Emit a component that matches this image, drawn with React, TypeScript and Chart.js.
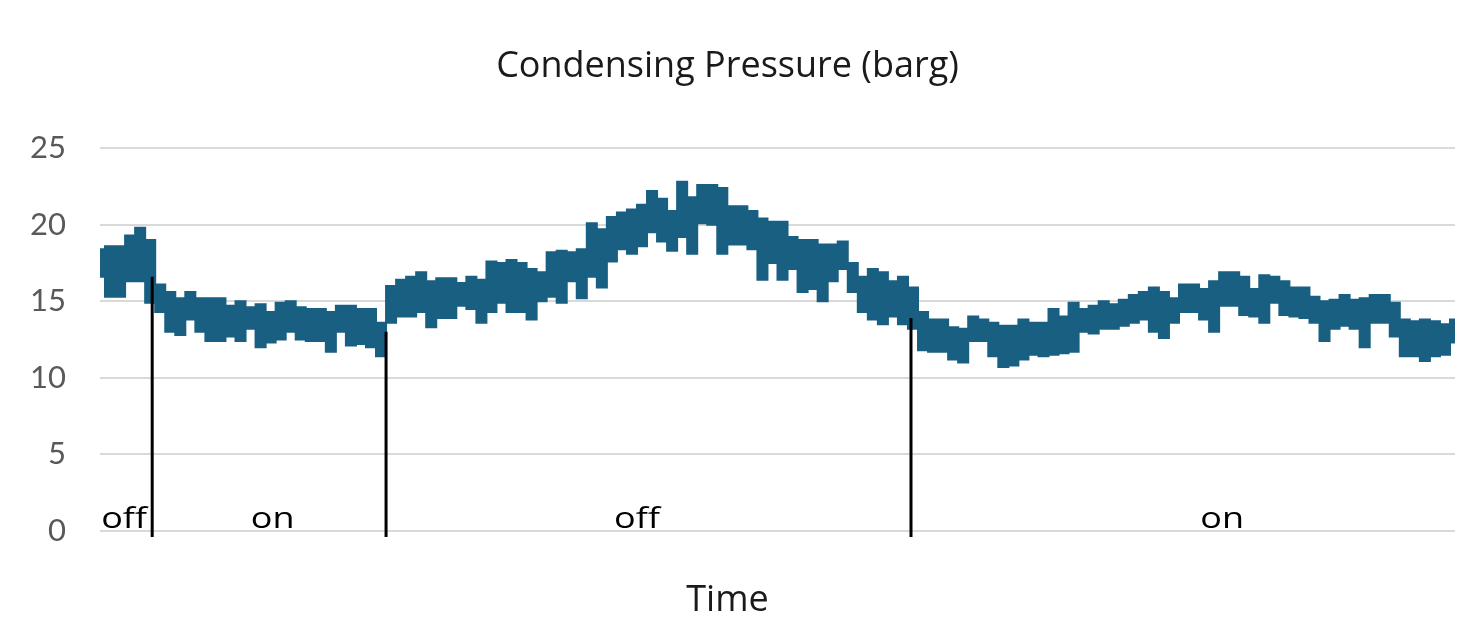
import React, { useEffect, useRef } from "react";
import { Chart, registerables } from "chart.js";

Chart.register(...registerables);

// Condensing pressure envelope (barg), one sample per time step
const pressureHigh = [
  18.4, 18.6, 18.6, 19.3, 19.8, 19.0, 16.1, 15.6, 15.2, 15.6,
  15.2, 15.2, 15.2, 14.7, 15.0, 14.6, 14.8, 14.3, 14.9, 15.0,
  14.6, 14.5, 14.5, 14.3, 14.7, 14.7, 14.5, 14.5, 13.6, 16.0,
  16.4, 16.6, 16.9, 16.3, 16.5, 16.5, 16.2, 16.6, 16.4, 17.6,
  17.5, 17.7, 17.5, 17.1, 16.9, 18.2, 18.3, 18.2, 18.4, 20.1,
  19.7, 20.5, 20.8, 21.0, 21.3, 22.2, 21.7, 20.9, 22.8, 21.8,
  22.6, 22.6, 22.4, 21.2, 21.2, 20.9, 20.4, 20.2, 20.2, 19.2,
  19.0, 19.0, 18.7, 18.7, 18.9, 17.5, 16.6, 17.1, 16.9, 16.3,
  16.6, 15.9, 14.3, 13.8, 13.8, 13.3, 13.2, 14.0, 13.8, 13.6,
  13.4, 13.4, 13.8, 13.6, 13.6, 14.5, 14.0, 14.9, 14.5, 14.7,
  15.0, 14.8, 15.1, 15.4, 15.6, 15.9, 15.6, 15.2, 16.1, 16.1,
  15.8, 16.3, 16.9, 16.9, 16.6, 15.8, 16.7, 16.6, 16.3, 15.9,
  15.9, 15.3, 15.0, 15.1, 15.4, 15.1, 15.2, 15.4, 15.4, 14.9,
  13.8, 13.7, 13.8, 13.7, 13.5, 13.8,
];
const pressureLow = [
  16.6, 15.3, 15.3, 16.3, 16.3, 14.9, 14.3, 13.0, 12.8, 13.8,
  13.0, 12.4, 12.4, 12.7, 12.4, 13.2, 12.0, 12.3, 12.5, 13.0,
  12.5, 12.4, 12.4, 11.7, 13.0, 12.1, 12.2, 12.0, 11.4, 13.6,
  14.0, 14.0, 14.3, 13.3, 13.9, 13.9, 14.7, 14.5, 13.6, 14.3,
  14.9, 14.3, 14.3, 13.8, 15.0, 15.3, 14.9, 16.3, 15.2, 16.6,
  15.9, 17.6, 18.4, 18.1, 18.6, 19.5, 18.9, 18.3, 19.2, 18.1,
  20.1, 20.0, 18.1, 18.7, 18.7, 18.4, 16.4, 17.5, 16.4, 17.1,
  15.6, 15.8, 15.0, 16.3, 17.1, 15.6, 14.3, 13.8, 13.5, 14.0,
  13.5, 13.2, 11.8, 11.7, 11.7, 11.2, 11.0, 12.4, 12.4, 11.4,
  10.7, 10.8, 11.2, 11.5, 11.4, 11.5, 11.6, 11.7, 13.0, 12.9,
  13.2, 13.2, 13.4, 13.6, 13.8, 13.0, 12.6, 13.6, 14.3, 14.3,
  13.8, 13.0, 14.7, 14.7, 14.1, 14.0, 13.6, 14.9, 14.1, 14.0,
  13.9, 13.6, 12.4, 13.2, 13.4, 13.2, 12.0, 13.6, 13.6, 12.7,
  11.4, 11.4, 11.1, 11.4, 11.5, 12.3,
];
const timeSteps = pressureHigh.map((_, i) => i);

// Switch events: time step where the unit toggles, and the pressure at which the marker starts
const switchTimes = [5.2, 28.5, 80.8];
const switchTops = [16.6, 13.0, 13.9];

// State labels
const stateLabels = ["off", "on", "off", "on"];
const stateTimes = [2.4, 17.2, 53.5, 111.8];

const yTicks = [0, 5, 10, 15, 20, 25];

const LINE_COLOR = "#195f82";

export default function App() {
  const ref = useRef<HTMLCanvasElement | null>(null);

  useEffect(() => {
    if (!ref.current) return;
    const stateLabelPlugin = {
      id: "stateLabels",
      afterDatasetsDraw(chart: any) {
        const { ctx, scales } = chart;
        const sx = 1.2;
        ctx.save();
        ctx.font = "30px 'Open Sans'";
        ctx.fillStyle = "#000000";
        ctx.textAlign = "center";
        ctx.textBaseline = "alphabetic";
        stateLabels.forEach((t, i) => {
          const px = scales.x.getPixelForValue(stateTimes[i]);
          const py = scales.y.getPixelForValue(0.2);
          ctx.save();
          ctx.translate(px, py);
          ctx.scale(sx, 1);
          ctx.fillText(t, 0, 0);
          ctx.restore();
        });
        ctx.restore();
      },
    };

    const switchDatasets = switchTimes.map((t, i) => ({
      type: "line" as const,
      data: [
        { x: t, y: switchTops[i] },
        { x: t, y: -0.4 },
      ],
      borderColor: "#000000",
      borderWidth: 3,
      pointRadius: 0,
      fill: false,
      clip: false as any,
      order: -1,
    }));

    const chart = new Chart(ref.current, {
      type: "line",
      data: {
        datasets: [
          {
            data: timeSteps.map((t, i) => ({ x: t, y: pressureLow[i] })),
            borderColor: LINE_COLOR,
            backgroundColor: LINE_COLOR,
            borderWidth: 2,
            pointRadius: 0,
            stepped: "middle",
            fill: false,
            order: 1,
          },
          {
            data: timeSteps.map((t, i) => ({ x: t, y: pressureHigh[i] })),
            borderColor: LINE_COLOR,
            backgroundColor: LINE_COLOR,
            borderWidth: 2,
            pointRadius: 0,
            stepped: "middle",
            fill: "-1",
            order: 1,
          },
          ...switchDatasets,
        ] as any,
      },
      options: {
        animation: false,
        responsive: true,
        maintainAspectRatio: false,
        layout: { padding: { left: 0, right: 24, top: 0, bottom: 0 } },
        plugins: {
          legend: { display: false },
          tooltip: { enabled: false },
          title: {
            display: true,
            text: "Condensing Pressure (barg)",
            color: "#1a1a1a",
            font: { family: "'Open Sans'", size: 36, weight: "normal" },
            padding: { top: 45, bottom: 60 },
          },
          subtitle: {
            display: true,
            position: "bottom",
            text: "Time",
            color: "#1a1a1a",
            font: { family: "'Open Sans'", size: 36, weight: "normal" },
            padding: { top: 48, bottom: 14 },
          },
        },
        scales: {
          x: {
            type: "linear",
            display: false,
            min: 0,
            max: timeSteps.length - 1,
          },
          y: {
            min: 0,
            max: 25,
            afterFit(scale: any) {
              scale.width = 100;
            },
            afterBuildTicks(scale: any) {
              scale.ticks = yTicks.map((v) => ({ value: v }));
            },
            border: { display: false },
            grid: { color: "#d9d9d9", lineWidth: 2, drawTicks: false },
            ticks: {
              color: "#595959",
              font: { family: "Lato", size: 31 },
              padding: 34,
            },
          },
        },
      },
      plugins: [stateLabelPlugin],
    });
    return () => chart.destroy();
  }, []);

  return (
    <div style={{ position: "fixed", left: 0, top: 0, width: 1479, height: 636, background: "#fff" }}>
      <canvas ref={ref} />
    </div>
  );
}
